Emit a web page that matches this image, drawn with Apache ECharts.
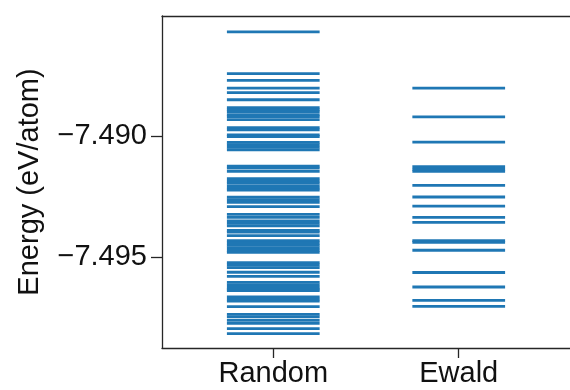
<!DOCTYPE html>
<html>
<head>
<meta charset="utf-8">
<script src="https://cdn.jsdelivr.net/npm/echarts@6/dist/echarts.min.js"></script>
<style>
  html, body { margin: 0; padding: 0; background: #fff; }
  #chart { width: 570px; height: 390px; }
</style>
</head>
<body>
<div id="chart"></div>
<script>
const categories = ['Random', 'Ewald'];
const yTicks = [-7.495, -7.490];

// energy levels per structure set (eV/atom)
const randomEnergies = [
  -7.48570, -7.48742, -7.48770, -7.48802, -7.48821, -7.48850, -7.48883, -7.48892,
  -7.48899, -7.48912, -7.48920, -7.48932, -7.48965, -7.48975, -7.48995, -7.49002,
  -7.49026, -7.49036, -7.49047, -7.49057, -7.49124, -7.49133, -7.49146, -7.49176,
  -7.49186, -7.49195, -7.49206, -7.49215, -7.49223, -7.49253, -7.49264, -7.49274,
  -7.49292, -7.49324, -7.49336, -7.49351, -7.49361, -7.49371, -7.49390, -7.49397,
  -7.49412, -7.49432, -7.49442, -7.49452, -7.49462, -7.49472, -7.49481, -7.49523,
  -7.49533, -7.49544, -7.49563, -7.49580, -7.49605, -7.49615, -7.49625, -7.49633,
  -7.49639, -7.49665, -7.49674, -7.49682, -7.49705, -7.49737, -7.49747, -7.49762,
  -7.49774, -7.49796, -7.49817
];
const ewaldEnergies = [
  -7.48802, -7.48921, -7.49025, -7.49127, -7.49138, -7.49146, -7.49204, -7.49252,
  -7.49290, -7.49336, -7.49357, -7.49432, -7.49439, -7.49472, -7.49564, -7.49624,
  -7.49679, -7.49704
];

const levels = [];
randomEnergies.forEach(e => levels.push([0, e]));
ewaldEnergies.forEach(e => levels.push([1, e]));

const axisColor = '#262626';
const font = 'Liberation Sans, Arial, sans-serif';

const chart = echarts.init(document.getElementById('chart'));
chart.setOption({
  animation: false,
  grid: { left: 162, right: -9, top: 16, bottom: 42 },
  xAxis: [
    {
      type: 'value',
      min: -0.6,
      max: 1.6,
      splitLine: { show: false },
      axisLine: { onZero: false, lineStyle: { color: axisColor, width: 1.3 } },
      axisTick: { customValues: [0, 1], length: 10, lineStyle: { color: axisColor, width: 1.3 } },
      axisLabel: {
        customValues: [0, 1],
        formatter: v => categories[Math.round(v)],
        fontSize: 29,
        fontFamily: font,
        color: '#111',
        margin: 11
      }
    },
    {
      type: 'value',
      position: 'top',
      min: -0.6,
      max: 1.6,
      splitLine: { show: false },
      axisLine: { show: true, onZero: false, lineStyle: { color: axisColor, width: 1.3 } },
      axisTick: { show: false },
      axisLabel: { show: false }
    }
  ],
  yAxis: {
    type: 'value',
    min: -7.49876,
    max: -7.48504,
    name: 'Energy (eV/atom)',
    nameLocation: 'middle',
    nameGap: 118,
    nameTextStyle: { fontSize: 29, fontFamily: font, color: '#111' },
    splitLine: { show: false },
    axisLine: { show: true, onZero: false, lineStyle: { color: axisColor, width: 1.3 } },
    axisTick: { show: true, customValues: yTicks, length: 11, lineStyle: { color: axisColor, width: 1.3 } },
    axisLabel: {
      customValues: yTicks,
      formatter: v => v.toFixed(3).replace('-', '\u2212'),
      fontSize: 29,
      fontFamily: font,
      color: '#111',
      margin: 15
    }
  },
  series: [{
    type: 'custom',
    clip: true,
    data: levels,
    renderItem: (params, api) => {
      const x = api.value(0);
      const y = api.value(1);
      const p1 = api.coord([x - 0.25, y]);
      const p2 = api.coord([x + 0.25, y]);
      return {
        type: 'line',
        shape: { x1: p1[0], y1: p1[1], x2: p2[0], y2: p2[1] },
        style: { stroke: '#1f77b4', lineWidth: 2.8 }
      };
    }
  }]
});
</script>
</body>
</html>
